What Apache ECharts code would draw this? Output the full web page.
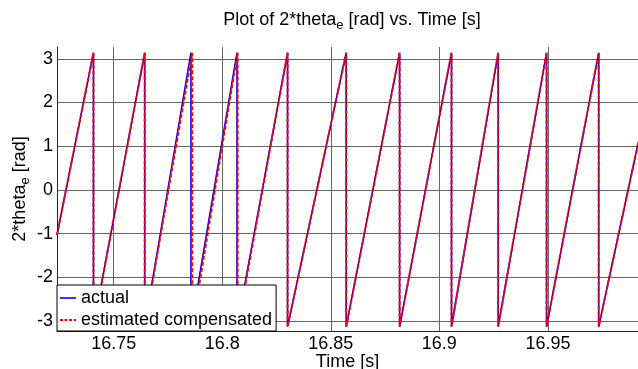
<!DOCTYPE html>
<html>
<head>
<meta charset="utf-8">
<script src="https://cdn.jsdelivr.net/npm/echarts@6/dist/echarts.min.js"></script>
<style>
html,body{margin:0;padding:0;background:#fff;}
#chart{width:638px;height:369px;}
</style>
</head>
<body>
<div id="chart"></div>
<script>
// Time [s] and 2*theta_e [rad] values
const actualTime = [16.7239, 16.7407, 16.7407, 16.7643, 16.7643, 16.7856, 16.7856, 16.8068, 16.8068,
  16.8301, 16.8301, 16.8571, 16.8571, 16.8817, 16.8817, 16.9056, 16.9056, 16.9271, 16.9271,
  16.9494, 16.9494, 16.9734, 16.9734, 16.9917];
const actualAngle = [-1.03, 3.14, -3.13, 3.14, -3.13, 3.14, -3.13, 3.14, -3.13,
  3.14, -3.13, 3.14, -3.13, 3.14, -3.13, 3.14, -3.13, 3.14, -3.13,
  3.14, -3.13, 3.14, -3.13, 1.10];
const estTime = [16.7239, 16.7407, 16.7407, 16.7643, 16.7643, 16.7862, 16.7862, 16.8071, 16.8071,
  16.8301, 16.8301, 16.8571, 16.8571, 16.8817, 16.8817, 16.9056, 16.9056, 16.9271, 16.9271,
  16.9494, 16.9494, 16.9734, 16.9734, 16.9917];
const estAngle = [-1.03, 3.14, -3.13, 3.14, -3.13, 3.14, -3.13, 3.14, -3.13,
  3.14, -3.13, 3.14, -3.13, 3.14, -3.13, 3.14, -3.13, 3.14, -3.13,
  3.14, -3.13, 3.14, -3.13, 1.10];
const seriesNames = ['actual', 'estimated compensated'];

function pairs(xs, ys) { return xs.map((x, i) => [x, ys[i]]); }

const FONT = '"Liberation Sans", Arial, sans-serif';
const grid = '#666666';
// legend glyphs: a short solid line and a short dashed line (box kept 16x18 by the moves)
const solidIcon = 'path://M0,0 M0,8.2 L16,8.2 L16,9.8 L0,9.8 Z M16,18';
const dashIcon = 'path://M0,0 M0,8 L3,8 L3,10 L0,10 Z M4.5,8 L7.5,8 L7.5,10 L4.5,10 Z M9,8 L12,8 L12,10 L9,10 Z M13.5,8 L16,8 L16,10 L13.5,10 Z M16,18';

const chart = echarts.init(document.getElementById('chart'), null, {renderer: 'canvas'});
chart.setOption({
  animation: false,
  backgroundColor: '#fff',
  title: {
    text: 'Plot of 2*theta{sub|e} [rad] vs. Time [s]',
    left: 347, top: 3, textAlign: 'center',
    textStyle: {
      fontFamily: FONT, fontSize: 18, fontWeight: 'normal', color: '#000', lineHeight: 24,
      rich: {sub: {fontFamily: FONT, fontSize: 13, lineHeight: 13, verticalAlign: 'bottom', color: '#000'}}
    }
  },
  grid: {left: 57, right: -10, top: 47, bottom: 38, containLabel: false, outerBoundsMode: 'none'},
  legend: {
    orient: 'vertical', left: 57, top: 285, z: 20,
    data: [{name: seriesNames[0], icon: solidIcon}, {name: seriesNames[1], icon: dashIcon}],
    backgroundColor: '#fff', borderColor: '#000', borderWidth: 1,
    padding: [4, 4, 2, 3], itemGap: 4, itemWidth: 16, itemHeight: 18,
    textStyle: {fontFamily: FONT, fontSize: 18, color: '#000'}
  },
  xAxis: {
    type: 'value', min: 16.7239, max: 16.9961, splitNumber: 5,
    name: 'Time [s]', nameLocation: 'middle', nameGap: 22, nameMoveOverlap: false,
    nameTextStyle: {fontFamily: FONT, fontSize: 18, color: '#000', padding: [0, 10, 0, 0]},
    axisLine: {show: true, onZero: false, lineStyle: {color: '#222', width: 1}},
    axisTick: {show: false},
    axisLabel: {fontFamily: FONT, fontSize: 18, color: '#000', margin: 4, showMinLabel: false, showMaxLabel: false},
    splitLine: {show: true, lineStyle: {color: grid, width: 1}}
  },
  yAxis: {
    type: 'value', min: -3.23, max: 3.27, splitNumber: 5,
    name: '2*theta{sub|e} [rad]', nameLocation: 'middle', nameGap: 25, nameRotate: 90, nameMoveOverlap: false,
    nameTextStyle: {fontFamily: FONT, fontSize: 18, color: '#000', lineHeight: 24,
      rich: {sub: {fontFamily: FONT, fontSize: 13, lineHeight: 13, verticalAlign: 'bottom', color: '#000'}}},
    axisLine: {show: true, onZero: false, lineStyle: {color: '#222', width: 1}},
    axisTick: {show: false},
    axisLabel: {fontFamily: FONT, fontSize: 18, color: '#000', margin: 4, showMinLabel: false, showMaxLabel: false},
    splitLine: {show: true, lineStyle: {color: [grid, grid, grid, grid, grid, grid, grid, grid, 'rgba(0,0,0,0)'], width: 1}}
  },
  series: [
    {
      name: seriesNames[0], type: 'line', data: pairs(actualTime, actualAngle),
      symbol: 'none', clip: true, z: 2,
      lineStyle: {color: '#0000ff', width: 1.6, type: 'solid'},
      itemStyle: {color: '#0000ff'}
    },
    {
      name: seriesNames[1], type: 'line', data: pairs(estTime, estAngle),
      symbol: 'none', clip: true, z: 3,
      lineStyle: {color: '#ff0000', width: 2, type: [4, 2]},
      itemStyle: {color: '#ff0000'}
    }
  ]
});
</script>
</body>
</html>
